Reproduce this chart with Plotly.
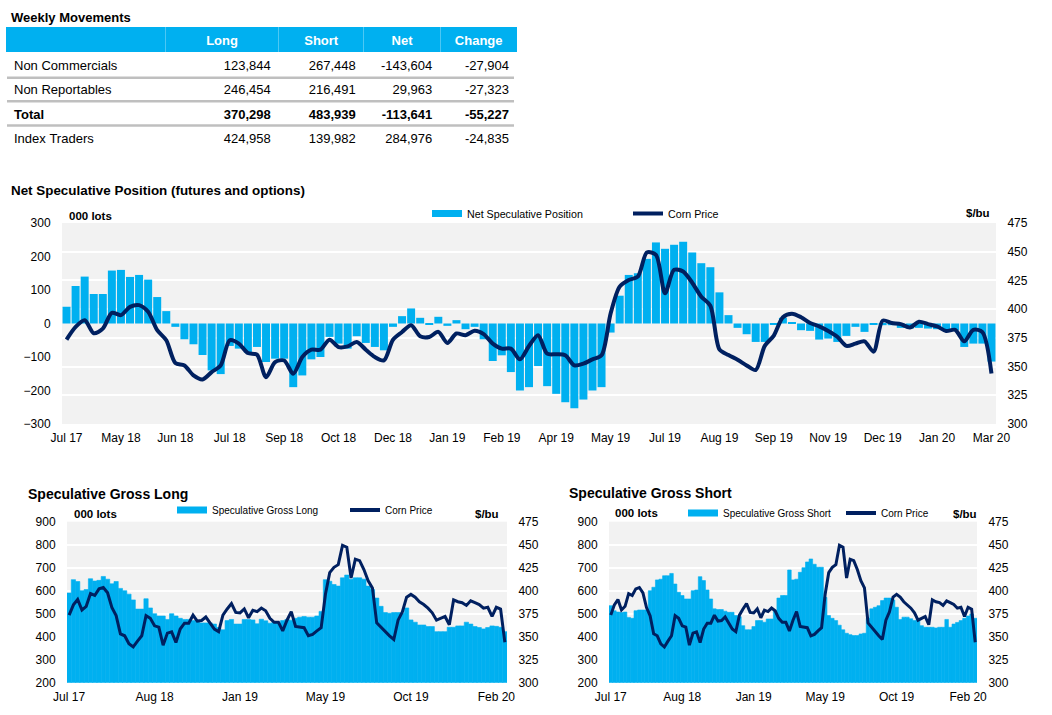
import plotly.graph_objects as go

W, H = 1052, 715


def px(x):
    return x / W


def py(y):
    return 1 - y / H


BLUE = '#00B0F0'
NAVY = '#002060'
BG = '#F2F2F2'
FONT = 'Arial, Liberation Sans, sans-serif'
CLEAR = 'rgba(0,0,0,0)'

# ---------------- data ----------------
table_rows = ['Non Commercials', 'Non Reportables', 'Total', 'Index Traders']
table_cols = ['Long', 'Short', 'Net', 'Change']
long_vals = [123844, 246454, 370298, 424958]
short_vals = [267448, 216491, 483939, 139982]
net_vals = [-143604, 29963, -113641, 284976]
change_vals = [-27904, -27323, -55227, -24835]
bold_row = 2  # the "Total" row is bold

labels_main = ['Jul 17', 'May 18', 'Jun 18', 'Jul 18', 'Sep 18', 'Oct 18', 'Dec 18', 'Jan 19',
               'Feb 19', 'Apr 19', 'May 19', 'Jul 19', 'Aug 19', 'Sep 19', 'Nov 19', 'Dec 19',
               'Jan 20', 'Mar 20']
labels_lower = ['Jul 17', 'Aug 18', 'Jan 19', 'May 19', 'Oct 19', 'Feb 20']

net_spec = [50, 112, 140, 88, 88, 158, 160, 139, 145, 131, 79, 37,
            -10, -47, -62, -94, -140, -151, -67, -75, -87, -70, -115,
            -105, -105, -190, -155, -107, -100, -40, -60, -75, -38, -58, -70, -80, -10, 22, 45,
            17, -2, 20, -7, 10, -17, -10, -47, -112, -95, -145, -200, -190, -127, -187, -210,
            -235, -253, -227, -200, -190, -27, 83, 145, 150, 193, 242, 223, 235, 244, 212, 180,
            168, 93, 25, -13, -32, -55, -55, -3, 17, 2, -20, -22, -48, -45, -55, -37, -10, -25,
            -3, -5, -5, -13, -15, -13, -15, -17, -18, -20, -70, -60, -60, -113.6]

corn_price = [373.5, 384.6, 390.4, 379, 383, 396.8, 394.8, 402, 403.5, 397.7, 381.7, 372.9,
              353.1, 351, 342.3, 338.8, 345.2, 351, 372.9, 370, 361.8, 360.4, 340.8,
              353.9, 355.3, 343.7, 358.3, 364.7, 364.7, 373.4, 367, 367.6, 371.4, 364.7, 358.3,
              355.4, 373.4, 380.1, 386, 376.4, 375.8, 380.2, 370.6, 378.8, 377.3, 381.1, 378.2,
              370, 365.6, 365.6, 356.3, 367.9, 377.3, 361.2, 360.7, 359.8, 351, 352.5, 356.3,
              359.8, 396.2, 419.6, 425.4, 428.3, 449.3, 447.3, 413.8, 434.2, 432.7, 423, 410.8,
              403, 365, 360, 356, 351, 347, 368, 377, 393, 396, 393, 388, 385, 381, 376, 368,
              370, 372, 363, 390, 388, 387, 384, 389, 387, 385, 381, 382, 372, 382, 380, 344]

gross_long = [590, 648, 640, 600, 605, 652, 642, 645, 662, 650, 630, 640, 610, 600, 585, 560,
              520, 520, 565, 525, 500, 490, 490, 475, 500, 490, 480, 475, 475, 470, 470, 460,
              460, 460, 455, 440, 430, 470, 475, 455, 455, 475, 475,
              473, 456, 476, 469, 459, 465, 460, 470, 475, 472, 480, 485, 488, 485, 485, 490,
              510, 648, 641, 627, 620, 656, 668, 650, 656, 656, 650, 620, 605, 568, 532, 505,
              502, 505, 505, 502, 525, 473, 463, 451, 451, 444, 444, 422, 422, 422, 441, 441,
              447, 447, 463, 455, 444, 440, 434, 440, 447, 445, 441, 422]

gross_short = [535, 513, 507, 505, 507, 484, 480, 513, 516, 516, 516, 600, 615, 647, 650, 665,
               665, 675, 629, 593, 579, 564, 564, 600, 603, 661, 644, 603, 564, 521, 518, 518,
               511, 506, 506, 492, 487, 448, 430, 430, 444, 470, 470, 463, 477, 477, 514, 568,
               579, 579, 690,
               647, 650, 680, 700, 725, 738, 715, 702, 702, 571, 492, 480, 470, 450, 430, 415,
               409, 405, 405, 412, 415, 480, 521, 528, 535, 557, 568, 568, 560, 528, 475, 485,
               485, 478, 470, 477, 448, 441, 441, 441, 438, 441, 441, 475, 441, 455, 462, 470,
               480, 490, 499, 480]

idx = list(range(len(net_spec)))
main_tickvals = list(range(0, len(net_spec), 6))
lower_tickvals = list(range(0, len(net_spec), 20))

fig = go.Figure()

# ---------------- table ----------------
NBSP = '\u00a0'
col_label = [r.replace(' ', NBSP) for r in table_rows]
cols = [col_label]
for arr in (long_vals, short_vals, net_vals, change_vals):
    cols.append([f"{v:,}" for v in arr])

n_rows = len(table_rows)
regular_cols = [[c[i] if i != bold_row else '' for i in range(n_rows)] for c in cols]
bold_cols = [[c[i] if i == bold_row else '' for i in range(n_rows)] for c in cols]

tbl_domain = dict(x=[px(6), px(517)], y=[py(170), py(27)])
tbl_widths = [159.3, 113.4, 85, 76.6, 76.7]
tbl_align = ['left', 'right', 'right', 'right', 'right']

# regular-weight table (header + normal rows)
fig.add_trace(go.Table(
    domain=tbl_domain, columnwidth=tbl_widths,
    header=dict(values=[''] + table_cols,
                fill_color=BLUE, align=['left', 'center', 'center', 'center', 'center'],
                font=dict(color='white', size=13, family=FONT, weight='bold'), height=25,
                line=dict(width=0, color=BLUE)),
    cells=dict(values=regular_cols, fill_color='white', align=tbl_align,
               font=dict(color='black', size=13, family=FONT),
               height=24.4, line=dict(width=0, color='white')),
))
# bold overlay for the Total row
fig.add_trace(go.Table(
    domain=tbl_domain, columnwidth=tbl_widths,
    header=dict(values=['', '', '', '', ''], fill_color=CLEAR, height=25,
                line=dict(width=0, color=CLEAR)),
    cells=dict(values=bold_cols, fill_color=CLEAR, align=tbl_align,
               font=dict(color='black', size=13, family=FONT, weight='bold'),
               height=24.4, line=dict(width=0, color=CLEAR)),
))

# ---------------- main chart ----------------
fig.add_trace(go.Bar(x=idx, y=net_spec, width=0.88, marker=dict(color=BLUE, line=dict(width=0)),
                     xaxis='x', yaxis='y', showlegend=False))
fig.add_trace(go.Scatter(x=idx, y=corn_price, mode='lines',
                         line=dict(color=NAVY, width=4, shape='spline', smoothing=0.8),
                         xaxis='x', yaxis='y2', showlegend=False))

# ---------------- lower left ----------------
fig.add_trace(go.Bar(x=idx, y=gross_long, width=1.0, marker=dict(color=BLUE, line=dict(width=0.6, color=BLUE)),
                     xaxis='x2', yaxis='y3', showlegend=False))
fig.add_trace(go.Scatter(x=idx, y=corn_price, mode='lines', line=dict(color=NAVY, width=3),
                         xaxis='x2', yaxis='y4', showlegend=False))

# ---------------- lower right ----------------
fig.add_trace(go.Bar(x=idx, y=gross_short, width=1.0, marker=dict(color=BLUE, line=dict(width=0.6, color=BLUE)),
                     xaxis='x3', yaxis='y5', showlegend=False))
fig.add_trace(go.Scatter(x=idx, y=corn_price, mode='lines', line=dict(color=NAVY, width=3),
                         xaxis='x3', yaxis='y6', showlegend=False))

# ---------------- legend proxies ----------------
legend_items = [
    ('Net Speculative Position', BLUE, 7, 'legend', 'x', 'y'),
    ('Corn Price', NAVY, 4, 'legend2', 'x', 'y'),
    ('Speculative Gross Long', BLUE, 7, 'legend3', 'x2', 'y3'),
    ('Corn Price', NAVY, 4, 'legend4', 'x2', 'y3'),
    ('Speculative Gross Short', BLUE, 7, 'legend5', 'x3', 'y5'),
    ('Corn Price', NAVY, 4, 'legend6', 'x3', 'y5'),
]
for name, color, lw, leg, xa, ya in legend_items:
    fig.add_trace(go.Scatter(x=[None], y=[None], mode='lines', name=name,
                             line=dict(color=color, width=lw), legend=leg,
                             xaxis=xa, yaxis=ya, showlegend=True))

leg_common = dict(orientation='h', bgcolor=CLEAR, itemwidth=30, xanchor='left',
                  yanchor='middle', borderwidth=0, itemclick=False, itemdoubleclick=False)

tickfont = dict(size=12, family=FONT, color='black')
hidden_ticks = dict(ticks='outside', tickcolor=CLEAR, showline=False, zeroline=False,
                    automargin=False)

fig.update_layout(
    template='none',
    width=W, height=H, margin=dict(l=0, r=0, t=0, b=0, pad=0, autoexpand=False),
    paper_bgcolor='white', plot_bgcolor=BG,
    font=dict(family=FONT, color='black'),
    legend=dict(x=px(427), y=py(213.5), font=dict(size=10.7, family=FONT), **leg_common),
    legend2=dict(x=px(628), y=py(213.5), font=dict(size=10.7, family=FONT), **leg_common),
    legend3=dict(x=px(172), y=py(510), font=dict(size=10, family=FONT), **leg_common),
    legend4=dict(x=px(345), y=py(510), font=dict(size=10, family=FONT), **leg_common),
    legend5=dict(x=px(683), y=py(513), font=dict(size=10, family=FONT), **leg_common),
    legend6=dict(x=px(841), y=py(513), font=dict(size=10, family=FONT), **leg_common),
    xaxis=dict(domain=[px(62), px(996)], anchor='y', range=[-0.5, len(idx) - 0.5],
               tickmode='array', tickvals=main_tickvals, ticktext=labels_main,
               showgrid=False, ticklen=3, tickfont=tickfont, **hidden_ticks),
    yaxis=dict(domain=[py(424), py(223)], anchor='x', range=[-300, 300],
               tickmode='array', tickvals=list(range(-300, 301, 100)),
               showgrid=False, ticklen=8, tickfont=tickfont, **hidden_ticks),
    yaxis2=dict(overlaying='y', side='right', anchor='x', range=[300, 475],
                tickmode='array', tickvals=list(range(300, 476, 25)),
                showgrid=True, gridcolor='white', gridwidth=1.5,
                ticklen=8, tickfont=tickfont, **hidden_ticks),
    xaxis2=dict(domain=[px(67), px(507)], anchor='y3', range=[-0.5, len(idx) - 0.5],
                tickmode='array', tickvals=lower_tickvals, ticktext=labels_lower,
                showgrid=False, ticklen=3, tickfont=tickfont, **hidden_ticks),
    yaxis3=dict(domain=[py(682.7), py(521.7)], anchor='x2', range=[200, 900],
                tickmode='array', tickvals=list(range(200, 901, 100)),
                showgrid=True, gridcolor='white', gridwidth=1.5,
                ticklen=8, tickfont=tickfont, **hidden_ticks),
    yaxis4=dict(overlaying='y3', side='right', anchor='x2', range=[300, 475],
                tickmode='array', tickvals=list(range(300, 476, 25)), showgrid=False,
                ticklen=8, tickfont=tickfont, **hidden_ticks),
    xaxis3=dict(domain=[px(609), px(977)], anchor='y5', range=[-0.5, len(idx) - 0.5],
                tickmode='array', tickvals=lower_tickvals, ticktext=labels_lower,
                showgrid=False, ticklen=3, tickfont=tickfont, **hidden_ticks),
    yaxis5=dict(domain=[py(682.7), py(521.7)], anchor='x3', range=[200, 900],
                tickmode='array', tickvals=list(range(200, 901, 100)),
                showgrid=True, gridcolor='white', gridwidth=1.5,
                ticklen=8, tickfont=tickfont, **hidden_ticks),
    yaxis6=dict(overlaying='y5', side='right', anchor='x3', range=[300, 475],
                tickmode='array', tickvals=list(range(300, 476, 25)), showgrid=False,
                ticklen=8, tickfont=tickfont, **hidden_ticks),
)

# row separators of the table
for ysep in (77.7, 101.2, 125.5):
    fig.add_shape(type='line', xref='paper', yref='paper', x0=px(7), x1=px(514),
                  y0=py(ysep), y1=py(ysep), line=dict(color='#BFBFBF', width=2.5))

# ---------------- text ----------------
texts = [
    ('Weekly Movements', 9, 17, 13),
    ('Net Speculative Position (futures and options)', 9, 190, 13.4),
    ('000 lots', 67, 216, 11.5),
    ('$/bu', 964, 213, 11.5),
    ('Speculative Gross Long', 26, 494, 14),
    ('000 lots', 72, 514, 11.5),
    ('$/bu', 473, 514, 11.5),
    ('Speculative Gross Short', 567, 493, 14),
    ('000 lots', 613, 512.5, 11.5),
    ('$/bu', 951, 514, 11.5),
]
for t, x, y, s in texts:
    fig.add_annotation(text=f"<b>{t}</b>", x=px(x), y=py(y), xref='paper', yref='paper',
                       xanchor='left', yanchor='middle', showarrow=False,
                       font=dict(size=s, family=FONT, color='black'))

fig.write_html('out.html')
